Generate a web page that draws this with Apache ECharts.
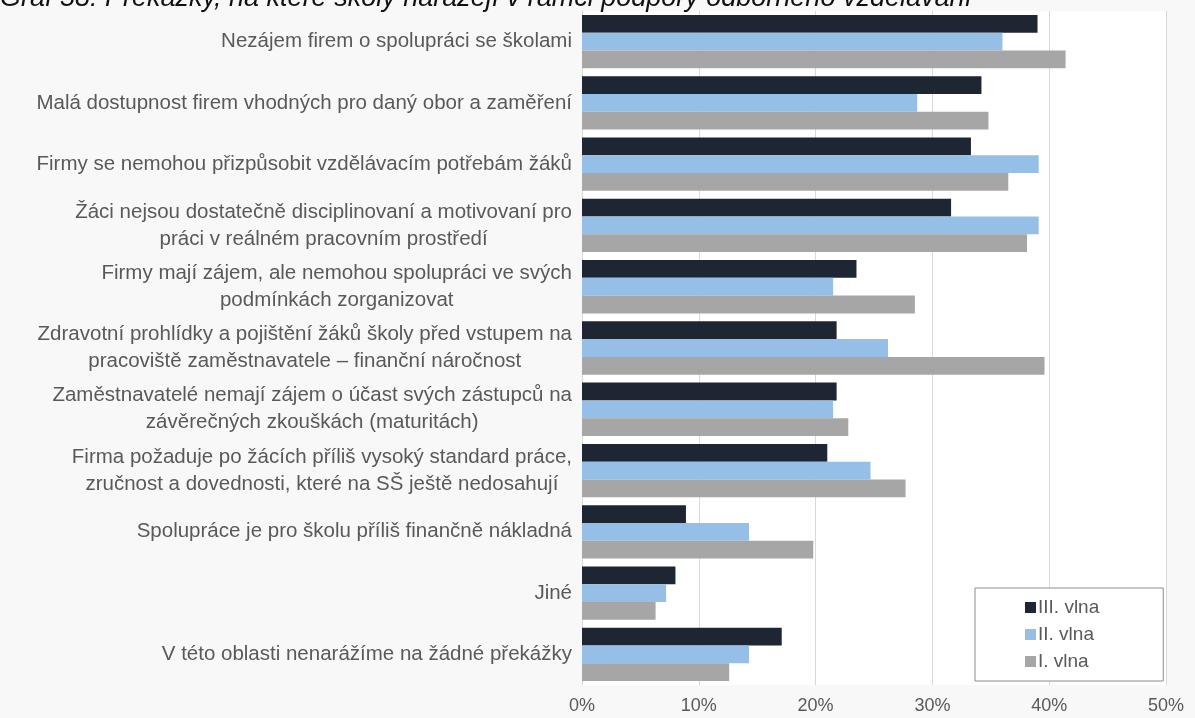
<!DOCTYPE html>
<html>
<head>
<meta charset="utf-8">
<script src="https://cdn.jsdelivr.net/npm/echarts@6/dist/echarts.min.js"></script>
<style>
html,body{margin:0;padding:0;background:#f8f8f8;}
#c{width:1195px;height:718px;}
</style>
</head>
<body>
<div id="c"></div>
<script>
const categories = [
  "Nezájem firem o spolupráci se školami",
  "Malá dostupnost firem vhodných pro daný obor a zaměření",
  "Firmy se nemohou přizpůsobit vzdělávacím potřebám žáků",
  "Žáci nejsou dostatečně disciplinovaní a motivovaní pro\npráci v reálném pracovním prostředí",
  "Firmy mají zájem, ale nemohou spolupráci ve svých\npodmínkách zorganizovat",
  "Zdravotní prohlídky a pojištění žáků školy před vstupem na\npracoviště zaměstnavatele – finanční náročnost",
  "Zaměstnavatelé nemají zájem o účast svých zástupců na\nzávěrečných zkouškách (maturitách)",
  "Firma požaduje po žácích příliš vysoký standard práce,\nzručnost a dovednosti, které na SŠ ještě nedosahují",
  "Spolupráce je pro školu příliš finančně nákladná",
  "Jiné",
  "V této oblasti nenarážíme na žádné překážky"
];
const seriesNames = ["III. vlna", "II. vlna", "I. vlna"];
const wave3 = [39.0, 34.2, 33.3, 31.6, 23.5, 21.8, 21.8, 21.0, 8.9, 8.0, 17.1];
const wave2 = [36.0, 28.7, 39.1, 39.1, 21.5, 26.2, 21.5, 24.7, 14.3, 7.2, 14.3];
const wave1 = [41.4, 34.8, 36.5, 38.1, 28.5, 39.6, 22.8, 27.7, 19.8, 6.3, 12.6];
const xTicks = [0, 10, 20, 30, 40, 50];
const titleText = "Graf 58: Překážky, na které školy narážejí v rámci podpory odborného vzdělávání";

const colors = ["#1f2633", "#95bfe6", "#a6a6a6"];
const font = "Liberation Sans, Arial, sans-serif";

const chart = echarts.init(document.getElementById('c'));
const mk = (name, data, i) => ({
  name: name, type: 'bar', data: data,
  itemStyle: { color: colors[i] },
  barGap: '0%', barCategoryGap: '13%',
  animation: false
});
chart.setOption({
  animation: false,
  backgroundColor: '#f8f8f8',
  title: {
    text: titleText, left: 0, top: -15, padding: 0,
    textStyle: { fontFamily: font, fontStyle: 'italic', fontWeight: 'normal', fontSize: 27, color: '#111' }
  },
  legend: {
    orient: 'vertical', left: 975, top: 588,
    data: seriesNames,
    backgroundColor: '#fff', borderColor: '#8c8c8c', borderWidth: 1,
    padding: [10, 64, 10, 50],
    itemWidth: 11, itemHeight: 11, itemGap: 8,
    icon: 'rect',
    textStyle: { fontFamily: font, fontSize: 19, color: '#595959', padding: [0,0,0,-3] }
  },
  grid: {
    left: 582, right: 29, top: 11, bottom: 33,
    show: true, backgroundColor: '#fff', borderWidth: 0
  },
  xAxis: {
    type: 'value', min: xTicks[0], max: xTicks[xTicks.length - 1], interval: 10,
    axisLine: { show: false }, axisTick: { show: false },
    splitLine: { lineStyle: { color: '#d9d9d9', width: 1 } },
    axisLabel: { formatter: '{value}%', fontFamily: font, fontSize: 18, color: '#595959', margin: 12 }
  },
  yAxis: {
    type: 'category', data: categories, inverse: true,
    axisLine: { show: true, lineStyle: { color: '#d9d9d9' } }, axisTick: { show: false },
    axisLabel: {
      margin: 10, align: 'right',
      formatter: function (v) { return v.split('\n').map(s => '{c|' + s + '}').join('\n'); },
      rich: { c: { align: 'center', fontFamily: font, fontSize: 20.5, color: '#595959', lineHeight: 27 } }
    }
  },
  series: [mk(seriesNames[0], wave3, 0), mk(seriesNames[1], wave2, 1), mk(seriesNames[2], wave1, 2)]
});
</script>
</body>
</html>
